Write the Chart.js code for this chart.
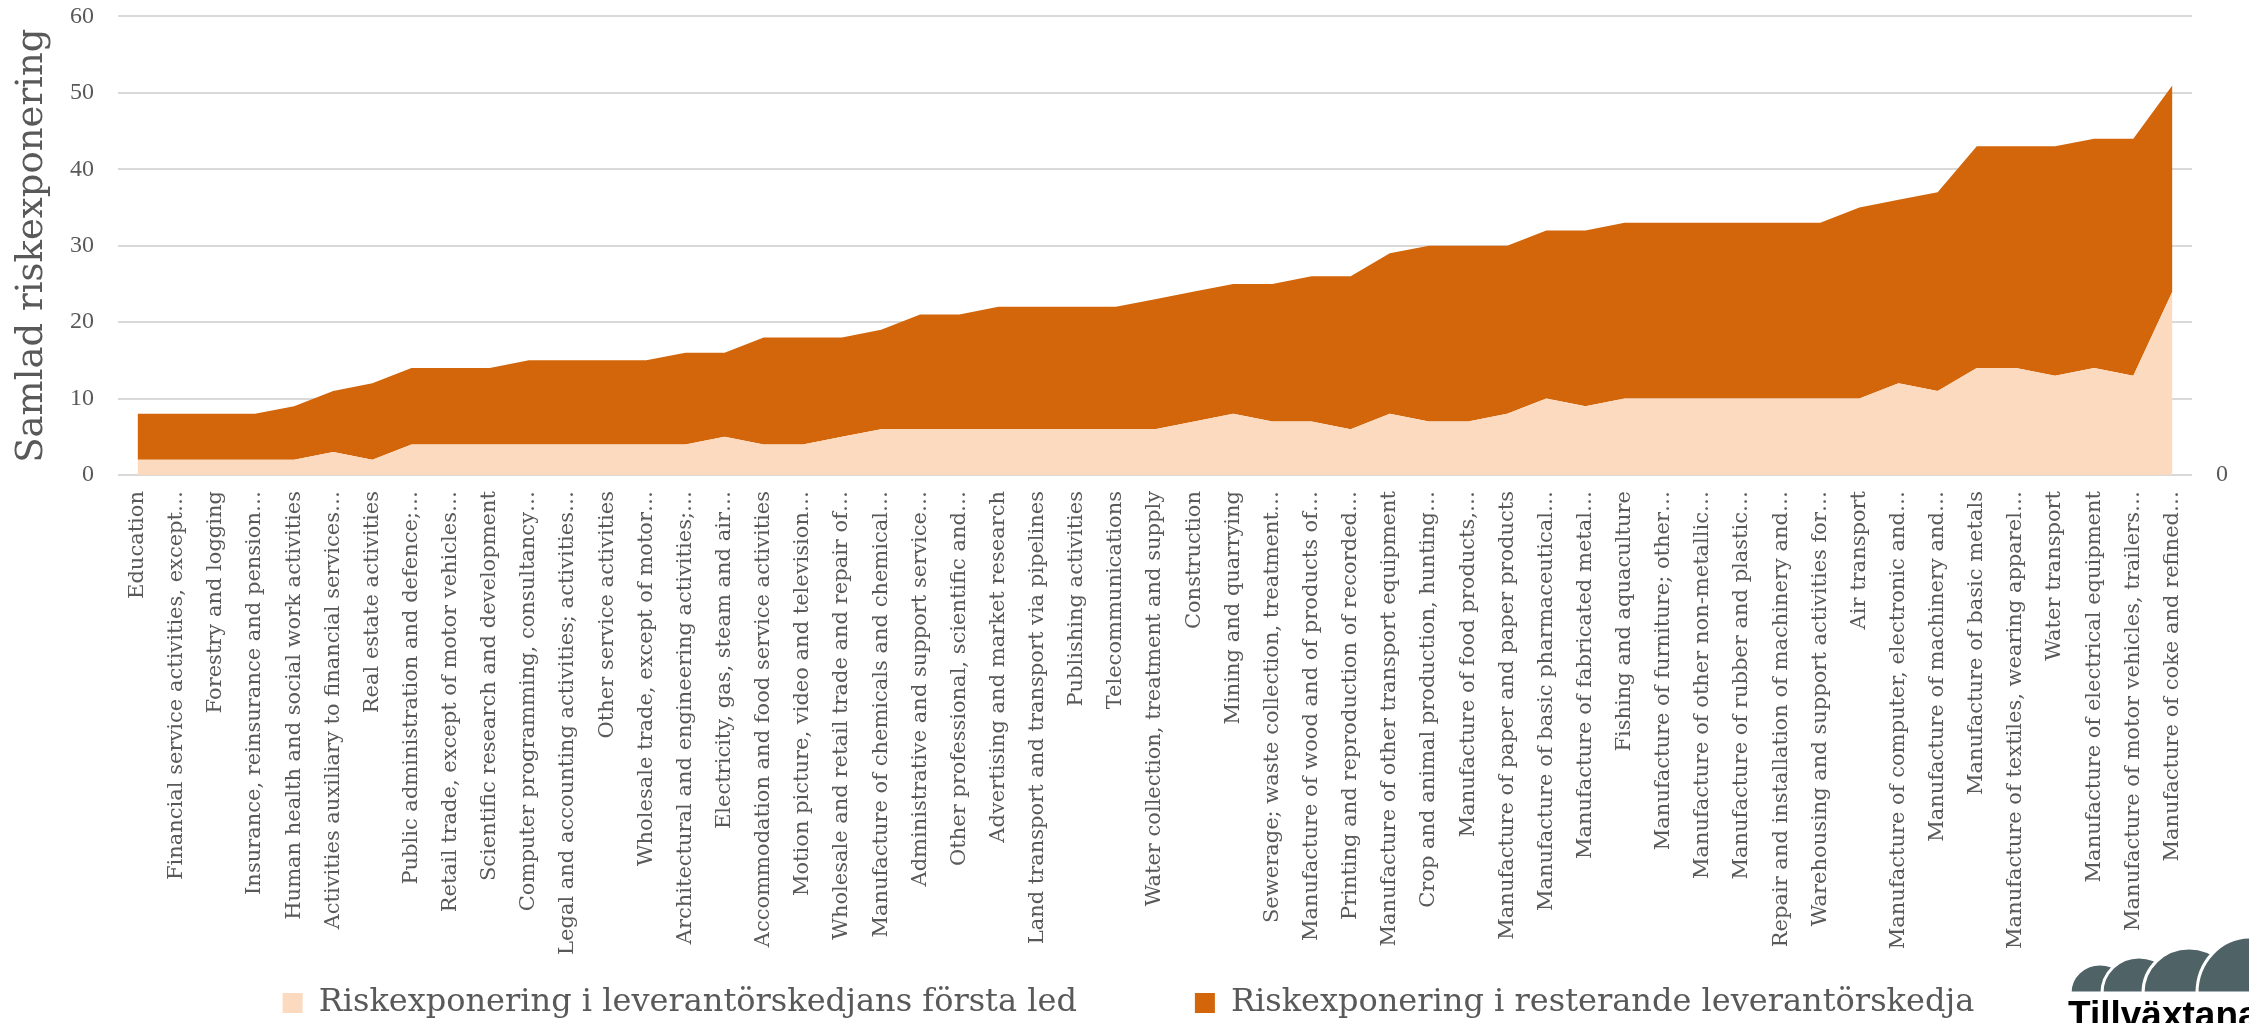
<!DOCTYPE html>
<html>
<head>
<meta charset="utf-8">
<script src="https://cdn.jsdelivr.net/npm/chart.js@4"></script>
<style>
  html, body { margin: 0; padding: 0; background: #fff; }
  #wrap { width: 2249px; height: 1023px; }
</style>
</head>
<body>
<div id="wrap"><canvas id="riskChart" width="2249" height="1023"></canvas></div>
<script>
// branscher, sorterade efter samlad riskexponering
const branscher = [
  'Education',
  'Financial service activities, except…',
  'Forestry and logging',
  'Insurance, reinsurance and pension…',
  'Human health and social work activities',
  'Activities auxiliary to financial services…',
  'Real estate activities',
  'Public administration and defence;…',
  'Retail trade, except of motor vehicles…',
  'Scientific research and development',
  'Computer programming, consultancy…',
  'Legal and accounting activities; activities…',
  'Other service activities',
  'Wholesale trade, except of motor…',
  'Architectural and engineering activities;…',
  'Electricity, gas, steam and air…',
  'Accommodation and food service activities',
  'Motion picture, video and television…',
  'Wholesale and retail trade and repair of…',
  'Manufacture of chemicals and chemical…',
  'Administrative and support service…',
  'Other professional, scientific and…',
  'Advertising and market research',
  'Land transport and transport via pipelines',
  'Publishing activities',
  'Telecommunications',
  'Water collection, treatment and supply',
  'Construction',
  'Mining and quarrying',
  'Sewerage; waste collection, treatment…',
  'Manufacture of wood and of products of…',
  'Printing and reproduction of recorded…',
  'Manufacture of other transport equipment',
  'Crop and animal production, hunting…',
  'Manufacture of food products,…',
  'Manufacture of paper and paper products',
  'Manufacture of basic pharmaceutical…',
  'Manufacture of fabricated metal…',
  'Fishing and aquaculture',
  'Manufacture of furniture; other…',
  'Manufacture of other non-metallic…',
  'Manufacture of rubber and plastic…',
  'Repair and installation of machinery and…',
  'Warehousing and support activities for…',
  'Air transport',
  'Manufacture of computer, electronic and…',
  'Manufacture of machinery and…',
  'Manufacture of basic metals',
  'Manufacture of textiles, wearing apparel…',
  'Water transport',
  'Manufacture of electrical equipment',
  'Manufacture of motor vehicles, trailers…',
  'Manufacture of coke and refined…'
];

const forstaLed = [2, 2, 2, 2, 2, 3, 2, 4, 4, 4, 4, 4, 4, 4, 4, 5, 4, 4, 5,
  6, 6, 6, 6, 6, 6, 6, 6, 7, 8, 7, 7, 6, 8, 7, 7, 8, 10, 9,
  10, 10, 10, 10, 10, 10, 10, 12, 11, 14, 14, 13, 14, 13, 24];

const resterande = [6, 6, 6, 6, 7, 8, 10, 10, 10, 10, 11, 11, 11, 11, 12, 11, 14, 14, 13,
  13, 15, 15, 16, 16, 16, 16, 17, 17, 17, 18, 19, 20, 21, 23, 23, 22, 22, 23,
  23, 23, 23, 23, 23, 23, 25, 24, 26, 29, 29, 30, 30, 31, 27];

const serieNamn = ['Riskexponering i leverantörskedjans första led', 'Riskexponering i resterande leverantörskedja'];
const yMax = 60;
const yStep = 10;

const grey = '#595959';
const serif = "'DejaVu Serif', serif";
const tickFont = "'Liberation Serif', serif";

// logotyp nere till höger (delvis utanför bild)
const logoPlugin = {
  id: 'logo',
  afterLayout(chart) {
    // låt x-axelns etiketter gå ner förbi legendens ruta utan att klippas
    chart.scales.x.bottom = chart.height;
  },
  afterDraw(chart) {
    const ctx = chart.ctx;
    const base = 993;
    // [vänsterkant, toppens x, toppens y]
    const hills = [[2070, 2100, 964], [2102, 2139, 957], [2143, 2189, 948], [2197, 2250, 937]];
    ctx.save();
    hills.forEach(h => {
      const rx = h[1] - h[0];
      const ry = base - h[2];
      ctx.beginPath();
      ctx.ellipse(h[1], base, rx, ry, 0, Math.PI, Math.PI * 2);
      ctx.closePath();
      ctx.fillStyle = '#4f6366';
      ctx.fill();
      ctx.lineWidth = 3;
      ctx.strokeStyle = '#ffffff';
      ctx.stroke();
    });
    ctx.fillStyle = '#000';
    ctx.font = "bold 37px 'Liberation Sans Narrow', 'Liberation Sans', sans-serif";
    ctx.textBaseline = 'alphabetic';
    ctx.fillText('Tillväxtanalys', 2068, 1027);
    ctx.restore();
  }
};

new Chart(document.getElementById('riskChart'), {
  type: 'line',
  data: {
    labels: branscher,
    datasets: [
      {
        label: serieNamn[0],
        data: forstaLed,
        backgroundColor: '#fcdac0',
        borderWidth: 0,
        pointRadius: 0,
        fill: 'origin',
        tension: 0
      },
      {
        label: serieNamn[1],
        data: resterande,
        backgroundColor: '#d3660a',
        borderWidth: 0,
        pointRadius: 0,
        fill: '-1',
        tension: 0
      }
    ]
  },
  options: {
    responsive: false,
    devicePixelRatio: 1,
    animation: false,
    layout: { padding: { left: 8, right: 0, top: 0, bottom: -6 } },
    plugins: {
      tooltip: { enabled: false },
      legend: {
        position: 'bottom',
        labels: {
          color: grey,
          font: { family: serif, size: 32 },
          boxWidth: 20,
          boxHeight: 20,
          padding: 118
        }
      }
    },
    scales: {
      x: {
        offset: true,
        grid: { display: false },
        border: { display: false },
        ticks: {
          autoSkip: false,
          minRotation: 90,
          maxRotation: 90,
          padding: 8,
          color: grey,
          font: { family: serif, size: 21 }
        },
        afterFit(scale) { scale.height = 394; }
      },
      y: {
        stacked: true,
        min: 0,
        max: yMax,
        grid: { color: '#d9d9d9', lineWidth: 2, drawTicks: true, tickLength: 22, tickColor: 'rgba(0,0,0,0)' },
        border: { display: false },
        ticks: {
          stepSize: yStep,
          padding: 2,
          color: grey,
          font: { family: tickFont, size: 24 }
        },
        title: {
          display: true,
          text: 'Samlad riskexponering',
          color: grey,
          font: { family: serif, size: 37 },
          padding: { top: 2, bottom: 0 }
        },
        afterFit(scale) { scale.width = 110; }
      },
      y2: {
        position: 'right',
        min: 0,
        max: yMax,
        grid: { display: true, drawOnChartArea: false, tickLength: 22, tickColor: 'rgba(0,0,0,0)' },
        border: { display: false },
        afterBuildTicks(axis) { axis.ticks = [{ value: 0 }]; },
        ticks: {
          padding: 2,
          color: grey,
          font: { family: tickFont, size: 24 }
        },
        afterFit(scale) { scale.width = 57; }
      }
    }
  },
  plugins: [logoPlugin]
});
</script>
</body>
</html>
